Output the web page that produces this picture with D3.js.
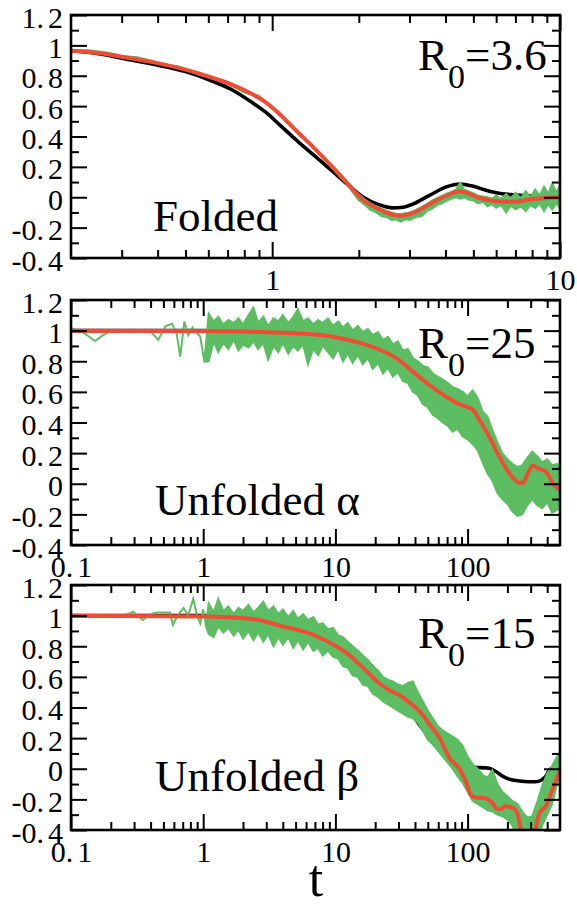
<!DOCTYPE html>
<html><head><meta charset="utf-8">
<script src="https://cdn.jsdelivr.net/npm/d3@7"></script>
<style>body{margin:0;background:#fff} svg{display:block}</style>
</head><body><svg id="c" width="577" height="908"></svg>
<script>
// ---------------- DATA ----------------
const yTickValues = [-0.4,-0.2,0,0.2,0.4,0.6,0.8,1,1.2];
const yTickLabels = ["-0.4","-0.2","0","0.2","0.4","0.6","0.8","1","1.2"];
const yMinorTicks = [-0.3,-0.1,0.1,0.3,0.5,0.7,0.9,1.1];
const foldedXTicks = [1,10];
const foldedXLabels = ["1","10"];
const foldedXMinor = [0.3,0.4,0.5,0.6,0.7,0.8,0.9,2,3,4,5,6,7,8,9];
const unfoldedXTicks = [0.1,1,10,100];
const unfoldedXLabels = ["0.1","1","10","100"];
const unfoldedXMinor = [0.2,0.3,0.4,0.5,0.6,0.7,0.8,0.9,2,3,4,5,6,7,8,9,20,30,40,50,60,70,80,90,200,300,400];
const panelNames = ["Folded","Unfolded \u03b1","Unfolded \u03b2"];
const r0Values = ["3.6","25","15"];
const xAxisTitle = "t";

// Folded (R0=3.6): theory (black), average (red), simulation band [t, low, high] (green)
const foldedTheory = [[0.2,0.965],[0.25,0.945],[0.3,0.915],[0.4,0.87],[0.5,0.827],[0.6,0.775],[0.727,0.706],[0.85,0.625],[0.95,0.56],[1.057,0.48],[1.24,0.36],[1.38,0.285],[1.6,0.18],[1.81,0.092],[2.06,0.004],[2.36,-0.05],[2.62,-0.07],[2.85,-0.066],[3.08,-0.045],[3.52,0.012],[4.03,0.068],[4.48,0.087],[5.0,0.072],[5.5,0.048],[6.0,0.03],[6.87,0.016],[8.0,0.008],[10,0.003]];
const foldedAverage = [[0.2,0.965],[0.25,0.95],[0.3,0.925],[0.4,0.883],[0.5,0.84],[0.6,0.795],[0.727,0.74],[0.85,0.68],[0.95,0.625],[1.057,0.55],[1.24,0.42],[1.38,0.335],[1.6,0.21],[1.81,0.1],[2.06,-0.015],[2.36,-0.08],[2.62,-0.115],[2.8,-0.122],[3.08,-0.105],[3.52,-0.045],[4.03,0.01],[4.48,0.04],[4.8,0.025],[5.26,-0.005],[6.0,-0.027],[6.87,-0.03],[8.07,-0.012],[10,0.0]];
const foldedSim = [[0.2,0.965,0.965],[0.23,0.968,0.968],[0.27,0.952,0.952],[0.3,0.93,0.93],[0.34,0.922,0.922],[0.38,0.9,0.9],[0.42,0.875,0.875],[0.47,0.862,0.862],[0.52,0.83,0.83],[0.56,0.805,0.805],[0.62,0.79,0.79],[0.7,0.748,0.748],[0.8,0.69,0.69],[0.9,0.668,0.668],[0.95,0.625,0.625],[1.05,0.55,0.55],[1.15,0.48,0.48],[1.3,0.385,0.385],[1.45,0.29,0.29],[1.6,0.2,0.2],[1.8,0.095,0.095],
 [2.0,-0.02,0.02],[2.1,-0.05,-0.015],[2.2,-0.085,-0.04],[2.3,-0.1,-0.06],[2.4,-0.125,-0.075],[2.5,-0.13,-0.09],[2.6,-0.15,-0.1],[2.7,-0.145,-0.11],[2.8,-0.16,-0.11],[2.9,-0.145,-0.105],[3.0,-0.15,-0.1],[3.15,-0.13,-0.085],[3.3,-0.125,-0.065],[3.45,-0.09,-0.045],[3.6,-0.075,-0.02],[3.75,-0.05,-0.005],[3.9,-0.04,0.01],[4.05,-0.02,0.025],[4.2,-0.01,0.035],[4.35,0.0,0.05],[4.5,-0.01,0.096],[4.65,0.0,0.05],[4.8,-0.015,0.04],[5.0,-0.02,0.025],[5.2,-0.04,0.01],[5.4,-0.03,0.005],[5.6,-0.06,0.0],[5.8,-0.045,-0.01],[6.0,-0.07,0.01],[6.25,-0.05,-0.01],[6.5,-0.1,0.02],[6.75,-0.055,-0.01],[7.0,-0.08,0.03],[7.3,-0.06,-0.005],[7.6,-0.09,0.04],[7.9,-0.05,0.0],[8.2,-0.07,0.05],[8.5,-0.04,0.01],[8.8,-0.09,0.07],[9.1,-0.045,0.02],[9.4,-0.08,0.09],[9.7,-0.04,0.03],[10,-0.07,0.08]];

// Unfolded alpha (R0=25)
const alphaTheory = [[0.1,1.0],[1,1.0],[3,0.995],[10,0.955],[20,0.88],[30,0.8],[40,0.7],[55,0.58],[70,0.46],[85,0.37],[100,0.31],[115,0.27],[140,0.21],[170,0.16],[210,0.12],[250,0.085],[300,0.06],[400,0.02],[500,0.0]];
const alphaAverage = [[0.1,1.0],[1,0.997],[3,0.99],[5.4,0.982],[9.6,0.96],[15.3,0.92],[21.7,0.875],[29,0.819],[38.6,0.732],[51.5,0.645],[68.9,0.568],[86.8,0.52],[100,0.5],[110,0.482],[123,0.416],[146,0.307],[174,0.177],[207,0.068],[246,0.007],[262,0.005],[278,0.046],[311,0.12],[340,0.1],[372,0.09],[400,0.07],[440,0.003],[500,-0.04]];
const alphaSim = [[0.1,1.015,1.015],[0.117,1.0,1.0],[0.135,0.965,0.965],[0.152,0.932,0.932],[0.175,0.97,0.97],[0.198,0.993,0.993],[0.23,0.99,0.99],[0.258,1.0,1.0],[0.3,0.99,0.99],[0.335,1.002,1.002],[0.4,0.995,0.995],[0.457,0.94,0.94],[0.52,1.03,1.03],[0.58,1.045,1.045],[0.63,0.98,0.98],[0.67,0.83,0.83],[0.72,1.06,1.06],[0.77,0.97,0.97],[0.83,1.02,1.02],[0.886,0.99,0.99],[0.95,0.96,0.96],[1.02,0.797,0.797],
 [1.1,0.80,1.11],[1.2,0.93,1.06],[1.3,0.86,1.09],[1.42,0.92,1.04],[1.55,0.88,1.07],[1.7,0.94,1.05],[1.85,0.87,1.08],[2.0,0.91,1.04],[2.2,0.89,1.10],[2.4,0.93,1.15],[2.6,0.88,1.05],[2.85,0.92,1.09],[3.1,0.81,1.03],[3.4,0.90,1.08],[3.7,0.86,1.06],[4.0,0.92,1.10],[4.4,0.85,1.05],[4.8,0.90,1.09],[5.2,0.87,1.14],[5.7,0.91,1.06],[6.2,0.78,1.08],[6.8,0.88,1.04],[7.4,0.84,1.07],[8.0,0.90,1.05],[8.8,0.86,1.08],[9.6,0.82,1.03],[10.5,0.88,1.06],[11.4,0.80,1.02],[12.4,0.85,1.05],[13.5,0.79,1.00],[14.8,0.84,1.03],[16.1,0.78,0.99],[17.6,0.82,1.01],[19.2,0.75,0.97],[21,0.79,0.99],[22.9,0.72,0.94],[25,0.76,0.96],[27.2,0.70,0.91],[29.7,0.73,0.93],[32.4,0.67,0.87],[35.3,0.66,0.88],[38.5,0.60,0.82],[42,0.58,0.80],[45.8,0.52,0.77],[50,0.50,0.76],[54.5,0.45,0.72],[59.4,0.43,0.70],[64.8,0.40,0.68],[70.7,0.38,0.66],[77,0.34,0.63],[84,0.36,0.62],[91.6,0.31,0.60],[100,0.29,0.57],[109,0.26,0.61],[119,0.22,0.56],[130,0.14,0.47],[141,0.07,0.44],[154,0.02,0.35],[168,-0.06,0.27],[183,-0.10,0.20],[200,-0.13,0.16],[218,-0.18,0.13],[238,-0.21,0.11],[259,-0.20,0.12],[283,-0.14,0.17],[308,-0.10,0.21],[336,-0.14,0.18],[367,-0.16,0.14],[400,-0.12,0.16],[436,-0.19,0.12],[475,-0.17,0.13],[500,-0.15,0.11]];

// Unfolded beta (R0=15)
const betaTheory = [[0.1,1.0],[1,1.0],[3,0.99],[5,0.965],[7,0.925],[10,0.86],[12.9,0.8],[17,0.71],[21.7,0.61],[26,0.53],[30,0.47],[36,0.39],[43,0.29],[50,0.22],[61,0.13],[73,0.07],[85,0.03],[100,0.01],[120,0.008],[146,0.003],[165,-0.02],[185,-0.05],[215,-0.072],[246,-0.08],[290,-0.085],[328,-0.085],[360,-0.075],[390,-0.05],[414,-0.01],[450,0.01],[500,0.03]];
const betaAverage = [[0.1,1.0],[1,0.995],[2.3,0.98],[3.8,0.935],[6.8,0.875],[10.8,0.786],[12.2,0.755],[15.3,0.68],[21.7,0.555],[26,0.51],[30.6,0.48],[36.6,0.43],[46,0.35],[51.5,0.29],[61.5,0.2],[69,0.11],[73,0.07],[86.8,0.0],[97.6,-0.09],[105,-0.165],[112,-0.185],[138,-0.195],[155,-0.225],[165,-0.26],[174,-0.265],[195,-0.245],[219,-0.255],[240,-0.3],[255,-0.42],[265,-0.5],[310,-0.5],[325,-0.4],[350,-0.29],[393,-0.24],[440,-0.13],[500,-0.01]];
const betaSim = [[0.1,1.0,1.0],[0.15,1.0,1.0],[0.2,1.0,1.0],[0.25,1.005,1.005],[0.28,1.015,1.015],[0.294,1.025,1.025],[0.32,1.0,1.0],[0.35,0.97,0.97],[0.38,1.0,1.0],[0.42,1.015,1.015],[0.45,1.02,1.02],[0.5,1.02,1.02],[0.56,1.02,1.02],[0.59,0.94,0.94],[0.64,1.0,1.0],[0.71,1.05,1.05],[0.77,1.0,1.0],[0.84,1.11,1.11],[0.9,1.0,1.0],[0.95,0.95,0.95],[1.0,1.04,1.04],[1.05,0.93,0.93],
 [1.1,0.88,1.08],[1.2,0.86,1.02],[1.3,0.93,1.11],[1.42,0.89,1.03],[1.55,0.92,1.06],[1.7,0.87,1.01],[1.85,0.91,1.05],[2.0,0.85,1.03],[2.2,0.90,1.07],[2.4,0.84,1.02],[2.6,0.89,1.05],[2.85,0.83,1.09],[3.1,0.88,1.03],[3.4,0.80,1.06],[3.7,0.86,1.01],[4.0,0.81,1.04],[4.4,0.86,0.99],[4.8,0.79,1.03],[5.2,0.84,0.98],[5.7,0.78,1.01],[6.2,0.83,0.97],[6.8,0.77,0.99],[7.4,0.79,0.94],[8.0,0.74,0.95],[8.8,0.77,0.91],[9.6,0.73,0.92],[10.5,0.72,0.87],[11.4,0.67,0.86],[12.4,0.66,0.83],[13.5,0.61,0.80],[14.8,0.60,0.77],[16.1,0.55,0.74],[17.6,0.54,0.71],[19.2,0.49,0.67],[21,0.47,0.64],[22.9,0.44,0.60],[25,0.42,0.58],[27.2,0.40,0.57],[29.7,0.38,0.55],[32.4,0.36,0.54],[35.3,0.34,0.56],[38.5,0.33,0.57],[42,0.30,0.50],[45.8,0.25,0.44],[50,0.19,0.38],[54.5,0.16,0.33],[59.4,0.12,0.28],[64.8,0.08,0.25],[70.7,0.04,0.23],[77,0.00,0.21],[84,-0.05,0.19],[91.6,-0.09,0.15],[100,-0.15,0.08],[109,-0.21,0.03],[119,-0.23,0.00],[130,-0.25,-0.04],[141,-0.27,-0.06],[154,-0.28,-0.01],[168,-0.30,-0.10],[183,-0.31,-0.15],[200,-0.33,-0.18],[218,-0.37,-0.21],[238,-0.44,-0.23],[259,-0.48,-0.28],[283,-0.50,-0.32],[308,-0.50,-0.31],[336,-0.44,-0.22],[367,-0.37,-0.11],[400,-0.30,-0.03],[436,-0.23,0.02],[475,-0.10,0.08],[500,-0.04,0.11]];

// ---------------- LAYOUT / STYLE ----------------
const W = 577, H = 908, L = 71, R = 560;
const SERIF = "'Liberation Serif','Times New Roman',Times,serif";
const GREEN = "#5dbd62", RED = "#ef4c35";
const panels = [
  {top:15,  bottom:258, xDomain:[0.2,10],  xTicks:foldedXTicks,   xLabels:foldedXLabels,   xMinor:foldedXMinor,   theory:foldedTheory, avg:foldedAverage, sim:foldedSim, name:panelNames[0], r0:r0Values[0], nameX:153, nameY:231, r0Y:70},
  {top:300, bottom:545, xDomain:[0.1,500], xTicks:unfoldedXTicks, xLabels:unfoldedXLabels, xMinor:unfoldedXMinor, theory:alphaTheory,  avg:alphaAverage,  sim:alphaSim,  name:panelNames[1], r0:r0Values[1], nameX:155, nameY:515, r0Y:358},
  {top:585, bottom:830, xDomain:[0.1,500], xTicks:unfoldedXTicks, xLabels:unfoldedXLabels, xMinor:unfoldedXMinor, theory:betaTheory,   avg:betaAverage,   sim:betaSim,   name:panelNames[2], r0:r0Values[2], nameX:155, nameY:791, r0Y:648}
];

const svg = d3.select("#c");
svg.append("rect").attr("width",W).attr("height",H).attr("fill","#fff");

function spaceDot(sel){
  sel.each(function(){
    const s = this.textContent, i = s.indexOf(".");
    if (i >= 0) {
      const t = d3.select(this);
      t.text(s.slice(0,i+1));
      t.append("tspan").attr("dx",4).text(s.slice(i+1));
    }
  });
}

function styleAxis(g){
  g.select(".domain").remove();
  g.selectAll(".tick line").attr("stroke","#000").attr("stroke-width",2);
  g.selectAll("text").attr("font-family",SERIF).attr("font-size",30).attr("fill","#000");
}

panels.forEach((p,i) => {
  const x = d3.scaleLog().domain(p.xDomain).range([L,R]);
  const y = d3.scaleLinear().domain([-0.4,1.2]).range([p.bottom,p.top]);
  const g = svg.append("g");
  const cid = "clip"+i;
  svg.append("defs").append("clipPath").attr("id",cid)
    .append("rect").attr("x",L).attr("y",p.top).attr("width",R-L).attr("height",p.bottom-p.top);
  const plot = g.append("g").attr("clip-path",`url(#${cid})`);

  const line = d3.line().x(d=>x(d[0])).y(d=>y(d[1])).curve(d3.curveMonotoneX);
  const area = d3.area().x(d=>x(d[0])).y0(d=>y(d[1])).y1(d=>y(d[2]));

  plot.append("path").attr("d",line(p.theory)).attr("fill","none").attr("stroke","#000").attr("stroke-width",3.6);
  plot.append("path").attr("d",area(p.sim)).attr("fill",GREEN).attr("stroke",GREEN).attr("stroke-width",2).attr("stroke-linejoin","miter");
  plot.append("path").attr("d",line(p.avg)).attr("fill","none").attr("stroke",RED).attr("stroke-width",4);

  // axes: bottom (labels), top, left (labels), right
  const bMaj = g.append("g").attr("transform",`translate(0,${p.bottom})`)
    .call(d3.axisBottom(x).tickValues(p.xTicks).tickFormat((d,k)=>p.xLabels[k]).tickSizeInner(-16).tickSizeOuter(0).tickPadding(11));
  styleAxis(bMaj); spaceDot(bMaj.selectAll("text"));
  const bMin = g.append("g").attr("transform",`translate(0,${p.bottom})`)
    .call(d3.axisBottom(x).tickValues(p.xMinor).tickFormat("").tickSizeInner(-8).tickSizeOuter(0));
  styleAxis(bMin);
  const tMaj = g.append("g").attr("transform",`translate(0,${p.top})`)
    .call(d3.axisTop(x).tickValues(p.xTicks).tickFormat("").tickSizeInner(-16).tickSizeOuter(0));
  styleAxis(tMaj);
  const tMin = g.append("g").attr("transform",`translate(0,${p.top})`)
    .call(d3.axisTop(x).tickValues(p.xMinor).tickFormat("").tickSizeInner(-8).tickSizeOuter(0));
  styleAxis(tMin);

  const lMaj = g.append("g").attr("transform",`translate(${L},0)`)
    .call(d3.axisLeft(y).tickValues(yTickValues).tickFormat((d,k)=>yTickLabels[k]).tickSizeInner(-16).tickSizeOuter(0).tickPadding(8));
  styleAxis(lMaj);
  lMaj.selectAll("text").attr("dy","0.4em");
  spaceDot(lMaj.selectAll("text"));
  const lMin = g.append("g").attr("transform",`translate(${L},0)`)
    .call(d3.axisLeft(y).tickValues(yMinorTicks).tickFormat("").tickSizeInner(-8).tickSizeOuter(0));
  styleAxis(lMin);
  const rMaj = g.append("g").attr("transform",`translate(${R},0)`)
    .call(d3.axisRight(y).tickValues(yTickValues).tickFormat("").tickSizeInner(-16).tickSizeOuter(0));
  styleAxis(rMaj);
  const rMin = g.append("g").attr("transform",`translate(${R},0)`)
    .call(d3.axisRight(y).tickValues(yMinorTicks).tickFormat("").tickSizeInner(-8).tickSizeOuter(0));
  styleAxis(rMin);

  g.append("rect").attr("x",L).attr("y",p.top).attr("width",R-L).attr("height",p.bottom-p.top)
    .attr("fill","none").attr("stroke","#000").attr("stroke-width",2.6);

  // annotations
  g.append("text").attr("x",p.nameX).attr("y",p.nameY).attr("font-family",SERIF).attr("font-size",45).text(p.name);
  const rt = g.append("text").attr("x",418).attr("y",p.r0Y).attr("font-family",SERIF).attr("font-size",45);
  rt.append("tspan").text("R");
  rt.append("tspan").attr("font-size",34).attr("dy",18).text("0");
  rt.append("tspan").attr("dy",-18).text("="+p.r0);
});

svg.append("text").attr("x",316).attr("y",896).attr("text-anchor","middle")
  .attr("font-family",SERIF).attr("font-size",52).text(xAxisTitle);
</script>
</body></html>
